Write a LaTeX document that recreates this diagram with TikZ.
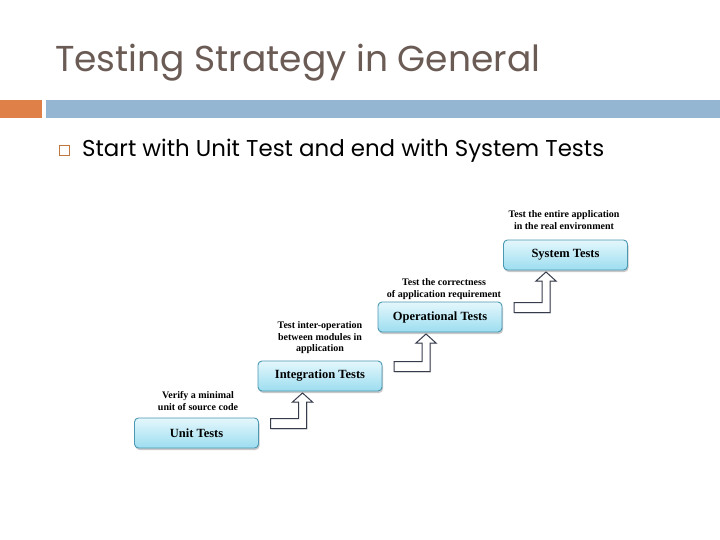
\documentclass[tikz,border=0pt]{standalone}
\usepackage{fontspec}
\setmainfont{Poppins}
\newfontfamily\labfont{Liberation Serif}
\usetikzlibrary{calc,shadows}
\definecolor{titlec}{HTML}{6B5B55}
\definecolor{orangebar}{HTML}{DF8048}
\definecolor{bluebar}{HTML}{94B6D2}
\definecolor{bulletc}{HTML}{C0773F}
\definecolor{boxtop}{HTML}{E4F7FC}
\definecolor{boxbot}{HTML}{9CDDF0}
\definecolor{boxedge}{HTML}{4A98B2}
\definecolor{arrowedge}{HTML}{363C4C}
\tikzset{
  stagebox/.style={draw=boxedge, line width=0.9pt, rounded corners=4pt,
    top color=boxtop, bottom color=boxbot, minimum width=124pt,
    minimum height=30pt, inner sep=0pt, outer sep=0pt,
    font=\labfont\bfseries\fontsize{12.5}{14}\selectfont,
    drop shadow={shadow xshift=1pt, shadow yshift=-2pt, opacity=0.35, fill=black!60}},
  desc/.style={align=center, inner sep=0pt, outer sep=0pt,
    font=\labfont\bfseries\fontsize{10}{11.5}\selectfont},
  stepsty/.style={draw=arrowedge, line width=1pt, fill=white, line join=miter,
    drop shadow={shadow xshift=1pt, shadow yshift=-1pt, opacity=0.25, fill=black!50}}
}
\newcommand\stepArrow[2]{%
  \path[stepsty] let \p1=(#1.north east), \p2=(#2.south) in
    (\x1+12pt,\y1-0.5pt) -- (\x1+40pt,\y1-0.5pt) -- (\x1+40pt,\y2-11pt)
    -- (\x1+34pt,\y2-11pt) -- (\x1+44pt,\y2-2pt) -- (\x1+54pt,\y2-11pt)
    -- (\x1+48pt,\y2-11pt) -- (\x1+48pt,\y1-10.5pt) -- (\x1+12pt,\y1-10.5pt) -- cycle;}
\begin{document}
\begin{tikzpicture}[x=1pt,y=-1pt]
\useasboundingbox (0,0) rectangle (720,540);
\fill[white] (0,0) rectangle (720,540);
% title
\node[anchor=base west, inner sep=0pt, text=titlec, font=\fontsize{36}{40}\selectfont] (title) at (55,72) {Testing Strategy in General};
% bars
\fill[orangebar] (0,100) rectangle (42,118);
\fill[bluebar] (46,100) rectangle (720,118);
% bullet
\draw[bulletc, line width=1.7pt] (59.5,145.5) rectangle (69.5,155.5);
\node[anchor=base west, inner sep=0pt, font=\fontsize{22.9}{27}\selectfont] (bullet) at (82,157) {Start with Unit Test and end with System Tests};
% boxes
\node[stagebox] (unit) at (196.5,433) {Unit Tests};
\node[stagebox] (integ) at (320,376) {Integration Tests};
\node[stagebox] (oper) at (440,317) {Operational Tests};
\node[stagebox] (sys) at (565.5,255) {System Tests};
% descriptions
\node[desc] (dunit) at (198,401) {Verify a minimal\\unit of source code};
\node[desc] (dinteg) at (320,338) {Test inter-operation\\between modules in\\application};
\node[desc] (doper) at (444,289) {Test the correctness\\of application requirement};
\node[desc] (dsys) at (564,220) {Test the entire application\\in the real environment};
% step arrows
\stepArrow{unit}{integ}
\stepArrow{integ}{oper}
\stepArrow{oper}{sys}
\end{tikzpicture}
\end{document}
